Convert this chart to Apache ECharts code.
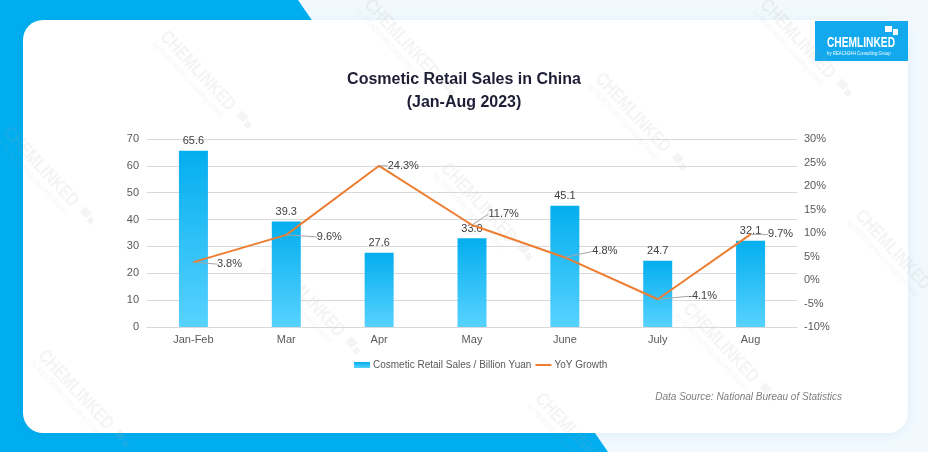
<!DOCTYPE html>
<html>
<head>
<meta charset="utf-8">
<script src="https://cdn.jsdelivr.net/npm/echarts@6/dist/echarts.min.js"></script>
<style>
html,body{margin:0;padding:0;background:#F1F9FE;}
#chart{width:928px;height:452px;}
</style>
</head>
<body>
<div id="chart"></div>
<script>
var categories = ['Jan-Feb', 'Mar', 'Apr', 'May', 'June', 'July', 'Aug'];
var salesValues = [65.6, 39.3, 27.6, 33.0, 45.1, 24.7, 32.1];
var yoyValues = [3.8, 9.6, 24.3, 11.7, 4.8, -4.1, 9.7];
var leftTicks = { min: 0, max: 70, interval: 10 };
var rightTicks = { min: -10, max: 30, interval: 5 };
var seriesNames = ['Cosmetic Retail Sales / Billion Yuan', 'YoY Growth'];

// label offsets for the YoY labels (dx, dy in px)
var yoyLabelOffsets = [[18, 2], [25, 2], [3, 0], [11, -11], [22, -6], [25, -3], [12, 0]];

var FONT = 'Liberation Sans, Arial, sans-serif';
var chart = echarts.init(document.getElementById('chart'), null, { renderer: 'canvas' });

// decorative watermark anchors
var watermarkAnchors = [[163, 34], [367, 2], [598, 76], [763, 2], [6, 130], [444, 166], [858, 213], [272, 260], [41, 353], [686, 306], [538, 396]];
function watermark(p) {
  var fill = 'rgba(170,170,170,0.13)';
  return {
    type: 'group', x: p[0], y: p[1], rotation: -0.82, z: 100, silent: true,
    children: [
      { type: 'text', x: 0, y: 0, scaleX: 0.8, style: { x: 0, y: 0, text: 'CHEMLINKED', fontFamily: FONT, fontWeight: 'bold', fontSize: 19, fill: fill, verticalAlign: 'middle' } },
      { type: 'text', x: 0, y: 13, scaleX: 0.85, style: { x: 0, y: 0, text: 'by REACH24H Consulting Group', fontFamily: FONT, fontSize: 8, fill: fill, verticalAlign: 'middle' } },
      { type: 'rect', shape: { x: 110, y: -6, width: 9, height: 8 }, style: { fill: fill } },
      { type: 'rect', shape: { x: 121, y: -3, width: 6, height: 6 }, style: { fill: fill } }
    ]
  };
}

var graphics = [
  { type: 'polygon', z: -100, silent: true, shape: { points: [[0, 0], [298, 0], [608, 452], [0, 452]] }, style: { fill: '#00AEEF' } },
  { type: 'rect', z: -90, silent: true, shape: { x: 23, y: 20, width: 885, height: 413, r: 20 },
    style: { fill: '#FFFFFF', shadowBlur: 12, shadowColor: 'rgba(0,120,180,0.08)', shadowOffsetY: 2 } },
  { type: 'group', z: 50, x: 815, y: 21, children: [
    { type: 'rect', shape: { x: 0, y: 0, width: 93, height: 40 }, style: { fill: '#12A9EE' } },
    { type: 'rect', shape: { x: 70, y: 5, width: 7, height: 6 }, style: { fill: '#FFFFFF' } },
    { type: 'rect', shape: { x: 78, y: 8, width: 5, height: 6 }, style: { fill: '#FFFFFF' } },
    { type: 'text', x: 12, y: 22, scaleX: 0.68, style: { x: 0, y: 0, text: 'CHEMLINKED', fontFamily: FONT, fontWeight: 'bold', fontSize: 15, fill: '#FFFFFF', verticalAlign: 'middle' } },
    { type: 'text', x: 12, y: 32, scaleX: 0.72, style: { x: 0, y: 0, text: 'by REACH24H Consulting Group', fontFamily: FONT, fontSize: 6, fill: '#FFFFFF', verticalAlign: 'middle' } }
  ] },
  { type: 'text', z: 50, style: { x: 842, y: 397, text: 'Data Source: National Bureau of Statistics', align: 'right', verticalAlign: 'middle',
    fontFamily: FONT, fontSize: 10, fontStyle: 'italic', fill: '#7F7F7F' } }
].concat(watermarkAnchors.map(watermark));

var option = {
  backgroundColor: '#F1F9FE',
  animation: false,
  title: {
    text: 'Cosmetic Retail Sales in China\n(Jan-Aug 2023)',
    left: 'center',
    top: 63,
    textStyle: { fontFamily: FONT, fontSize: 16, fontWeight: 'bold', color: '#1E1E36', lineHeight: 23 }
  },
  legend: {
    left: 349,
    top: 355,
    itemWidth: 16,
    itemHeight: 6,
    itemGap: 4,
    textStyle: { fontFamily: FONT, fontSize: 10, color: '#595959', padding: [0, 0, 0, -2] },
    data: [
      { name: seriesNames[0], icon: 'rect' },
      { name: seriesNames[1], icon: 'path://M0,2L16,2L16,4L0,4Z' }
    ]
  },
  grid: { left: 147, right: 131, top: 139, bottom: 125 },
  xAxis: {
    type: 'category',
    data: categories,
    axisTick: { show: false },
    axisLine: { lineStyle: { color: '#D9D9D9', width: 1 } },
    axisLabel: { fontFamily: FONT, fontSize: 11, color: '#595959', margin: 7 }
  },
  yAxis: [
    {
      type: 'value',
      min: leftTicks.min, max: leftTicks.max, interval: leftTicks.interval,
      axisLine: { show: false }, axisTick: { show: false },
      splitLine: { lineStyle: { color: '#D9D9D9', width: 1 } },
      axisLabel: { fontFamily: FONT, fontSize: 11, color: '#595959', margin: 8 }
    },
    {
      type: 'value',
      min: rightTicks.min, max: rightTicks.max, interval: rightTicks.interval,
      axisLine: { show: false }, axisTick: { show: false },
      splitLine: { show: false },
      axisLabel: { fontFamily: FONT, fontSize: 11, color: '#595959', margin: 7, formatter: '{value}%' }
    }
  ],
  series: [
    {
      name: seriesNames[0],
      type: 'bar',
      data: salesValues,
      barWidth: 29,
      itemStyle: {
        color: new echarts.graphic.LinearGradient(0, 0, 0, 1, [
          { offset: 0, color: '#04AEEE' },
          { offset: 1, color: '#57D2FF' }
        ])
      },
      label: {
        show: true, position: 'top', distance: 4,
        fontFamily: FONT, fontSize: 11, color: '#404040',
        formatter: function (p) { return p.value.toFixed(1); }
      },
      z: 2
    },
    {
      name: seriesNames[1],
      type: 'line',
      yAxisIndex: 1,
      data: yoyValues,
      symbol: 'circle',
      symbolSize: 1,
      itemStyle: { color: '#ED7D31' },
      lineStyle: { color: '#ED7D31', width: 2 },
      label: {
        show: true, position: 'right', distance: 5,
        fontFamily: FONT, fontSize: 11, color: '#404040',
        formatter: function (p) { return p.value.toFixed(1) + '%'; }
      },
      labelLine: { show: true, lineStyle: { color: '#A6A6A6', width: 1 } },
      labelLayout: function (p) {
        var o = yoyLabelOffsets[p.dataIndex];
        return { dx: o[0], dy: o[1] };
      },
      z: 3
    }
  ],
  graphic: graphics
};
chart.setOption(option);
</script>
</body>
</html>
